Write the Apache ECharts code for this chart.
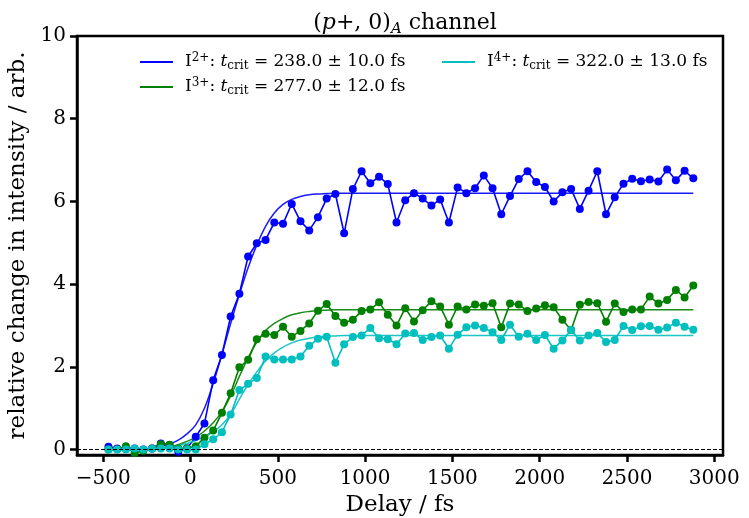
<!DOCTYPE html>
<html><head><meta charset="utf-8">
<script src="https://cdn.jsdelivr.net/npm/echarts@6/dist/echarts.min.js"></script>
<style>html,body{margin:0;padding:0;background:#fff}#c{width:749px;height:518px}</style>
</head><body><div id="c"></div>
<script>
// ---- data ----
const delays = [-470,-420,-370,-320,-270,-220,-170,-120,-70,-20,30,80,130,180,230,280,330,380,430,480,530,580,630,680,730,780,830,880,930,980,1030,1080,1130,1180,1230,1280,1330,1380,1430,1480,1530,1580,1630,1680,1730,1780,1830,1880,1930,1980,2030,2080,2130,2180,2230,2280,2330,2380,2430,2480,2530,2580,2630,2680,2730,2780,2830,2880];
const i2Data = [0.07,0.03,0.03,0.03,0.0,0.03,0.15,0.11,-0.05,0.03,0.31,0.63,1.68,2.29,3.22,3.77,4.67,4.99,5.07,5.49,5.46,5.94,5.52,5.30,5.62,6.07,6.18,5.23,6.30,6.73,6.44,6.60,6.42,5.49,6.03,6.20,6.07,5.90,6.05,5.49,6.34,6.20,6.32,6.63,6.32,5.69,6.13,6.54,6.73,6.47,6.35,6.00,6.22,6.30,5.82,6.26,6.73,5.69,6.10,6.43,6.55,6.49,6.53,6.48,6.77,6.51,6.74,6.56];
const i3Data = [0.0,0.01,0.08,-0.08,-0.03,0.03,0.13,0.12,0.03,0.03,0.08,0.29,0.46,0.89,1.36,1.99,2.17,2.67,2.80,2.77,2.97,2.73,2.87,3.05,3.36,3.52,3.23,3.07,3.14,3.35,3.39,3.56,3.26,3.00,3.42,3.10,3.37,3.59,3.46,3.02,3.46,3.39,3.51,3.48,3.54,2.96,3.53,3.51,3.35,3.41,3.49,3.44,3.14,2.89,3.50,3.57,3.54,3.09,3.53,3.33,3.39,3.39,3.70,3.53,3.62,3.86,3.68,3.97];
const i4Data = [0.0,0.0,0.0,0.03,0.0,0.02,0.03,0.03,0.0,0.0,0.0,0.13,0.25,0.42,0.85,1.44,1.59,1.73,2.25,2.18,2.18,2.18,2.25,2.51,2.68,2.73,2.10,2.55,2.72,2.76,2.94,2.69,2.67,2.55,2.81,2.82,2.65,2.72,2.76,2.44,2.78,2.96,3.00,2.94,2.84,2.65,3.02,2.73,2.80,2.65,2.77,2.44,2.64,2.89,2.64,2.76,2.82,2.60,2.65,2.99,2.89,2.98,2.99,2.90,2.95,3.07,2.97,2.90];
const fitDelay = [-470,-420,-370,-320,-270,-220,-170,-120,-70,-20,30,80,130,180,230,280,330,380,430,480,530,580,630,680,730,780,830,880,930,980,1030,2880];
const i2Fit = [0,0,0,0.01,0.02,0.04,0.08,0.14,0.23,0.38,0.6,1.0,1.6,2.3,3.05,3.75,4.4,4.95,5.4,5.72,5.93,6.05,6.12,6.16,6.18,6.19,6.2,6.2,6.2,6.2,6.2,6.2];
const i3Fit = [0,0,0,0.01,0.01,0.02,0.04,0.07,0.12,0.2,0.3,0.45,0.65,0.92,1.3,1.77,2.22,2.6,2.88,3.05,3.17,3.26,3.31,3.34,3.36,3.37,3.38,3.38,3.38,3.38,3.38,3.38];
const i4Fit = [0,0,0,0,0.01,0.02,0.03,0.06,0.1,0.15,0.22,0.31,0.43,0.6,0.85,1.22,1.58,1.88,2.14,2.34,2.48,2.58,2.65,2.69,2.72,2.74,2.75,2.76,2.76,2.76,2.76,2.76];
const xTicks = [-500,0,500,1000,1500,2000,2500,3000];
const yTicks = [0,2,4,6,8,10];
const legendLabels = {
  'fit2': '{sp| }{n|I}{sup|2+}{n|: }{it|t}{sub|crit}{n| = 238.0 ± 10.0 fs}',
  'fit3': '{sp| }{n|I}{sup|3+}{n|: }{it|t}{sub|crit}{n| = 277.0 ± 12.0 fs}',
  'fit4': '{sp| }{n|I}{sup|4+}{n|: }{it|t}{sub|crit}{n| = 322.0 ± 13.0 fs}'
};
const colors = {b:'#0000ff', g:'#008000', c:'#00bfbf'};

// ---- chart ----
const FONT = 'DejaVu Serif';
const chart = echarts.init(document.getElementById('c'), null, {renderer:'canvas'});
function pairs(xs, ys){ return xs.map((x,i)=>[x, ys[i]]); }
function dataSeries(name, ys, color){
  return {name, type:'line', data:pairs(delays, ys), symbol:'circle', symbolSize:8,
    lineStyle:{width:1.6, color}, itemStyle:{color}, emphasis:{disabled:true}, animation:false};
}
function fitSeries(name, ys, color){
  return {name, type:'line', data:pairs(fitDelay, ys), symbol:'none', smooth:0.4,
    lineStyle:{width:1.5, color, opacity:0.9}, itemStyle:{color}, emphasis:{disabled:true}, animation:false};
}
const legRich = {
  sp:{fontFamily:FONT, fontSize:17, width:7, lineHeight:20},
  n:{fontFamily:FONT, fontSize:17, lineHeight:20, color:'#000'},
  it:{fontFamily:FONT, fontSize:17, lineHeight:20, fontStyle:'italic', color:'#000'},
  sup:{fontFamily:FONT, fontSize:12, lineHeight:12, verticalAlign:'top', color:'#000'},
  sub:{fontFamily:FONT, fontSize:12, lineHeight:12, verticalAlign:'bottom', color:'#000'}
};
const legendCommon = {orient:'vertical', icon:'rect', itemWidth:33, itemHeight:2, itemGap:5, padding:0,
  selectedMode:false, formatter:(n)=>legendLabels[n], textStyle:{rich:legRich}};
const d0 = dataSeries('d2', i2Data, colors.b);
d0.markLine = {silent:true, symbol:'none', label:{show:false}, animation:false,
  lineStyle:{type:[4,2], color:'#000', width:1.2}, data:[{yAxis:0}]};
const axisLineStyle = {show:true, onZero:false, lineStyle:{color:'#000', width:2.5}};
const option = {
  backgroundColor:'#fff',
  title:{text:'{n|(}{it|p}{n|+, 0)}{sub|A}{n| channel}', left:400, top:4, textAlign:'center',
    textStyle:{fontWeight:'normal', rich:{
      n:{fontFamily:FONT, fontSize:22, lineHeight:28, fontWeight:'normal', color:'#000'},
      it:{fontFamily:FONT, fontSize:22, lineHeight:28, fontStyle:'italic', fontWeight:'normal', color:'#000'},
      sub:{fontFamily:FONT, fontSize:15, lineHeight:15, verticalAlign:'bottom', fontStyle:'italic', fontWeight:'normal', color:'#000'}}}},
  legend:[
    Object.assign({left:140, top:52, data:['fit2','fit3']}, legendCommon),
    Object.assign({left:442, top:52, data:['fit4']}, legendCommon)
  ],
  grid:{left:77, right:26, top:36, bottom:63, outerBoundsMode:'none', containLabel:false,
    show:true, borderColor:'#000', borderWidth:2.5, backgroundColor:'#fff'},
  xAxis:{type:'value', min:-650, max:3050, splitLine:{show:false},
    axisLine:axisLineStyle,
    axisTick:{show:true, length:7, customValues:xTicks, lineStyle:{color:'#000', width:2.5}},
    axisLabel:{customValues:xTicks, margin:14, fontFamily:FONT, fontSize:20, color:'#000',
      formatter:(v)=> (v<0 ? '\u2212'+Math.abs(v) : String(v))},
    name:'Delay / fs', nameLocation:'middle', nameGap:38,
    nameTextStyle:{fontFamily:FONT, fontSize:23, color:'#000'}},
  yAxis:{type:'value', min:-0.13, max:10, splitLine:{show:false},
    axisLine:axisLineStyle,
    axisTick:{show:true, length:7, customValues:yTicks, lineStyle:{color:'#000', width:2.5}},
    axisLabel:{customValues:yTicks, margin:11, fontFamily:FONT, fontSize:20, color:'#000'},
    name:'relative change in intensity / arb.', nameLocation:'middle', nameGap:47,
    nameTextStyle:{fontFamily:FONT, fontSize:23, color:'#000'}},
  series:[
    d0, fitSeries('fit2', i2Fit, colors.b),
    dataSeries('d3', i3Data, colors.g), fitSeries('fit3', i3Fit, colors.g),
    dataSeries('d4', i4Data, colors.c), fitSeries('fit4', i4Fit, colors.c)
  ]
};
chart.setOption(option);
</script></body></html>
